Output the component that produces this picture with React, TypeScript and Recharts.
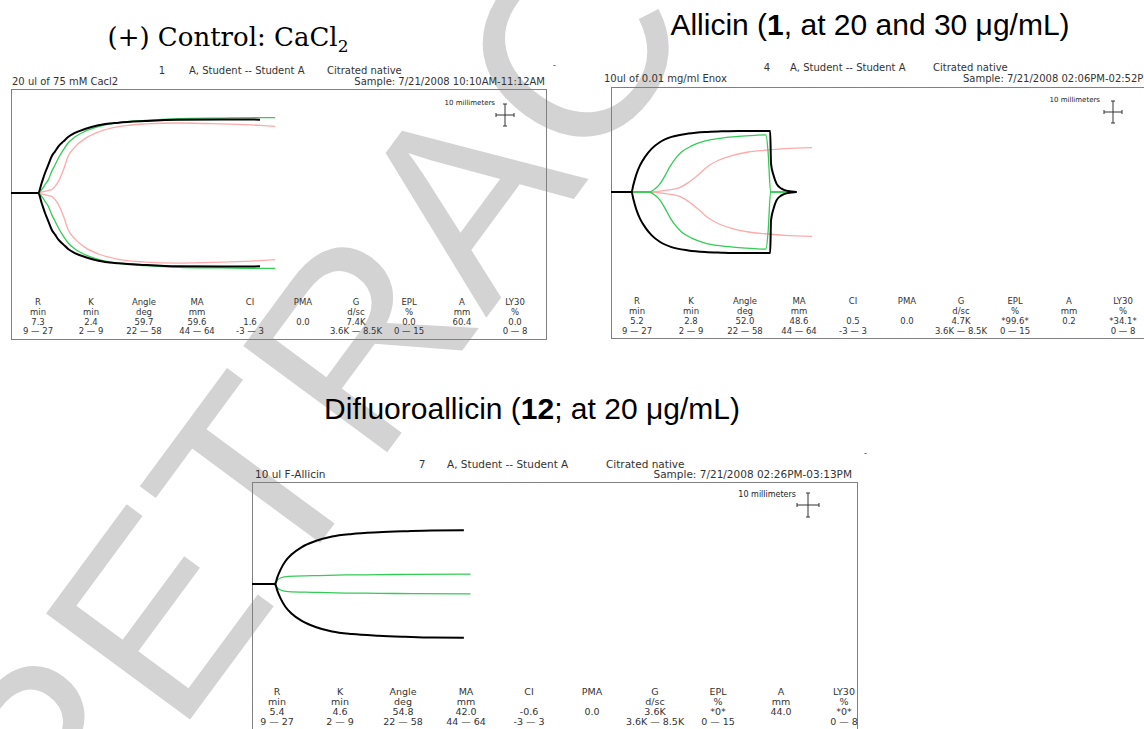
import React from "react";
import { LineChart, Line, XAxis, YAxis } from "recharts";

// TEG result table (same parameter rows for every run)
const PARAMS = ["R", "K", "Angle", "MA", "CI", "PMA", "G", "EPL", "A", "LY30"];
const UNITS = ["min", "min", "deg", "mm", "", "", "d/sc", "%", "mm", "%"];
const RANGES = ["9 — 27", "2 — 9", "22 — 58", "44 — 64", "-3 — 3", "", "3.6K — 8.5K", "0 — 15", "", "0 — 8"];

const controlValues = ["7.3", "2.4", "59.7", "59.6", "1.6", "0.0", "7.4K", "0.0", "60.4", "0.0"];
const allicinValues = ["5.2", "2.8", "52.0", "48.6", "0.5", "0.0", "4.7K", "*99.6*", "0.2", "*34.1*"];
const difluoroValues = ["5.4", "4.6", "54.8", "42.0", "-0.6", "0.0", "3.6K", "*0*", "44.0", "*0*"];

// tracings: time in minutes, amplitude in mm (drawn +/- amplitude/2)
const controlMin = [0, 6.5, 7.3, 8.1, 8.9, 9.7, 10.5, 11.3, 12.5, 13.6, 15.2, 17.6, 20.8, 25.6, 31.9, 39.8, 50.2, 59.3, 62.9];
const controlBlack = [0, 0, 8.1, 16.2, 22.9, 29.7, 33.7, 37.8, 41.8, 45.3, 48.6, 51.8, 54.8, 56.9, 58.3, 59.4, 59.6, 59.4, null];
const controlGreen = [0, 0, 2.7, 6.7, 10.8, 17.5, 22.9, 28.3, 35.1, 40.5, 45.3, 49.9, 53.7, 56.9, 58.8, 60.2, 60.7, 61.0, 61.0];
const controlPink = [0, 0, 0.8, 1.3, 2.2, 2.7, 5.4, 9.4, 18.9, 29.7, 37.2, 44.0, 49.4, 53.7, 55.9, 56.7, 55.9, 54.8, 54.0];

const allicinBlackMin = [0, 4.9, 5.3, 6.1, 6.9, 8.1, 9.7, 11.7, 14.4, 18.4, 22.4, 26.3, 30.3, 37.9, 38.1, 38.7, 39.4, 40.6, 42.1, 44.2];
const allicinBlack = [0, 0, 5.4, 14.9, 21.6, 28.4, 35.1, 40.5, 44.6, 47.3, 48.6, 49.1, 49.4, 49.4, 23.0, 13.5, 6.8, 2.7, 0.8, 0];
const allicinGreenMin = [0, 8.9, 10.5, 11.7, 12.9, 14.0, 15.2, 16.8, 19.2, 22.4, 26.3, 30.3, 34.3, 36.9, 37.4, 38.0, 41.8];
const allicinGreen = [0, 0, 2.7, 6.8, 13.5, 20.3, 26.5, 32.4, 37.3, 41.3, 43.7, 45.1, 45.9, 46.2, 32.4, 0, 0];
const allicinPinkMin = [0, 9.7, 12.9, 16.0, 18.4, 20.8, 23.2, 25.6, 28.7, 32.7, 36.7, 41.4, 47.9];
const allicinPink = [0, 0, 1.4, 3.2, 7.6, 14.0, 21.1, 25.7, 29.4, 32.4, 33.8, 35.1, 35.9];

const difluoroBlackMin = [0, 4.9, 5.3, 6.0, 7.0, 8.4, 10.5, 13.4, 16.9, 21.1, 26.7, 32.3, 37.9, 44.7];
const difluoroBlack = [0, 0, 4.8, 11.1, 17.6, 23.3, 29.0, 33.7, 37.3, 39.3, 40.6, 41.4, 42.0, 42.1];
const difluoroGreenMin = [0, 4.6, 4.9, 5.3, 6.0, 7.7, 12.7, 19.7, 26.7, 33.8, 46.1];
const difluoroGreen = [0, 0, 1.3, 2.9, 4.7, 6.0, 6.5, 7.1, 7.3, 7.6, 7.8];

const BLACK = "#000000";
const GREEN = "#33cc55";
const PINK = "#ffaaaa";
const SANS = "'DejaVu Sans', Verdana, sans-serif";
const ARIAL = "'Liberation Sans', Arial, sans-serif";

type Trace = { min: number[]; mm: (number | null)[]; color: string; width: number };

const halfTrace = (tr: Trace, sign: number) =>
  tr.min.map((t, i) => ({ t, v: tr.mm[i] == null ? null : (sign * (tr.mm[i] as number)) / 2 }));

function Tracing({ left, top, width, height, pxPerMin, pxPerMm, traces }: {
  left: number; top: number; width: number; height: number; pxPerMin: number; pxPerMm: number; traces: Trace[];
}) {
  const xMax = width / pxPerMin;
  const yMax = height / 2 / pxPerMm;
  return (
    <div style={{ position: "absolute", left, top }}>
      <LineChart width={width} height={height} margin={{ top: 0, right: 0, bottom: 0, left: 0 }}>
        <XAxis type="number" dataKey="t" domain={[0, xMax]} hide allowDataOverflow />
        <YAxis type="number" domain={[-yMax, yMax]} hide allowDataOverflow />
        {traces.map((tr, i) =>
          [1, -1].map((s) => (
            <Line
              key={`${i}${s}`}
              data={halfTrace(tr, s)}
              dataKey="v"
              type="monotone"
              stroke={tr.color}
              strokeWidth={tr.width}
              dot={false}
              isAnimationActive={false}
            />
          ))
        )}
      </LineChart>
    </div>
  );
}

function Txt({ x, y, size = 10, anchor = "start", font = SANS, color = "#333", children }: {
  x: number; y: number; size?: number; anchor?: string; font?: string; color?: string; children: React.ReactNode;
}) {
  const transform = anchor === "middle" ? "translateX(-50%)" : anchor === "end" ? "translateX(-100%)" : undefined;
  return (
    <div style={{
      position: "absolute", left: x, top: y - size * 0.55, fontSize: size, lineHeight: `${size * 1.1}px`,
      whiteSpace: "nowrap", transform, fontFamily: font, color,
    }}>
      {children}
    </div>
  );
}

function Box({ left, top, right, bottom }: { left: number; top: number; right: number; bottom: number }) {
  return (
    <div style={{
      position: "absolute", left, top, width: right - left, height: bottom - top,
      border: "1px solid #808080", boxSizing: "border-box",
    }} />
  );
}

function Scale({ x, y, hv, hh, labelX, labelY, size }: {
  x: number; y: number; hv: number; hh: number; labelX: number; labelY: number; size: number;
}) {
  return (
    <>
      <Txt x={labelX} y={labelY} size={size} anchor="end" color="#222">10 millimeters</Txt>
      <svg style={{ position: "absolute", left: x - hh - 2, top: y - hv - 2 }} width={hh * 2 + 4} height={hv * 2 + 4}>
        <g stroke="#333" strokeWidth={1} transform={`translate(${hh + 2},${hv + 2})`}>
          <line x1={0} y1={-hv} x2={0} y2={hv} />
          <line x1={-2} y1={-hv} x2={2} y2={-hv} />
          <line x1={-2} y1={hv} x2={2} y2={hv} />
          <line x1={-hh} y1={0} x2={hh} y2={0} />
          <line x1={-hh} y1={-2} x2={-hh} y2={2} />
          <line x1={hh} y1={-2} x2={hh} y2={2} />
        </g>
      </svg>
    </>
  );
}

function Stats({ values, x0, step, y0, gap, size }: {
  values: string[]; x0: number; step: number; y0: number; gap: number; size: number;
}) {
  return (
    <>
      {PARAMS.map((p, i) => {
        const x = x0 + step * i;
        return (
          <React.Fragment key={p}>
            <Txt x={x} y={y0} size={size} anchor="middle">{p}</Txt>
            <Txt x={x} y={y0 + gap} size={size} anchor="middle">{UNITS[i]}</Txt>
            <Txt x={x} y={y0 + gap * 2} size={size} anchor="middle">{values[i]}</Txt>
            <Txt x={x} y={y0 + gap * 3} size={size} anchor="middle">{RANGES[i]}</Txt>
          </React.Fragment>
        );
      })}
    </>
  );
}

export default function App() {
  return (
    <div style={{ position: "absolute", left: 0, top: 0, width: 1144, height: 729, overflow: "hidden", background: "#fff" }}>
      {/* diagonal watermark behind everything */}
      <div style={{
        position: "absolute", left: 465, top: 195, transform: "translate(-50%, -50%) rotate(-53.6deg)",
        fontFamily: ARIAL, fontSize: 260, lineHeight: "260px", color: "#d3d3d3", whiteSpace: "nowrap",
      }}>
        RETRACTED
      </div>

      {/* (+) control */}
      <Txt x={228} y={37} size={26} anchor="middle" font="'DejaVu Serif', serif" color="#000">
        (+) Control: CaCl<sub style={{ fontSize: 17, verticalAlign: "-6px" }}>2</sub>
      </Txt>
      <Txt x={162} y={70} anchor="middle">1</Txt>
      <Txt x={189} y={70}>A, Student -- Student A</Txt>
      <Txt x={327} y={70}>Citrated native</Txt>
      <Txt x={553} y={66} size={8}>-</Txt>
      <Txt x={12} y={81}>20 ul of 75 mM Cacl2</Txt>
      <Txt x={545} y={81} anchor="end">Sample: 7/21/2008 10:10AM-11:12AM</Txt>
      <Box left={11} top={89} right={547} bottom={340} />
      <Scale x={505} y={115} hv={11} hh={9} labelX={495} labelY={104} size={7} />
      <Tracing
        left={11} top={89} width={536} height={208} pxPerMin={4.2} pxPerMm={2.47}
        traces={[
          { min: controlMin, mm: controlPink, color: PINK, width: 1.3 },
          { min: controlMin, mm: controlGreen, color: GREEN, width: 1.3 },
          { min: controlMin, mm: controlBlack, color: BLACK, width: 2 },
        ]}
      />
      <Stats values={controlValues} x0={38} step={53} y0={303} gap={9.6} size={8.5} />

      {/* allicin */}
      <Txt x={870} y={24} size={30} anchor="middle" font={ARIAL} color="#000">
        Allicin (<b>1</b>, at 20 and 30 μg/mL)
      </Txt>
      <Txt x={767} y={67} anchor="middle">4</Txt>
      <Txt x={790} y={67}>A, Student -- Student A</Txt>
      <Txt x={933} y={67}>Citrated native</Txt>
      <Txt x={604} y={78}>10ul of 0.01 mg/ml Enox</Txt>
      <Txt x={1152} y={78} anchor="end">Sample: 7/21/2008 02:06PM-02:52PM</Txt>
      <Box left={611} top={87} right={1152} bottom={339} />
      <Scale x={1113} y={112} hv={11} hh={9} labelX={1100} labelY={101} size={7} />
      <Tracing
        left={611} top={87} width={540} height={210} pxPerMin={4.2} pxPerMm={2.47}
        traces={[
          { min: allicinPinkMin, mm: allicinPink, color: PINK, width: 1.3 },
          { min: allicinGreenMin, mm: allicinGreen, color: GREEN, width: 1.3 },
          { min: allicinBlackMin, mm: allicinBlack, color: BLACK, width: 2 },
        ]}
      />
      <Stats values={allicinValues} x0={637} step={54} y0={302} gap={9.8} size={8.5} />

      {/* difluoroallicin */}
      <Txt x={532} y={408} size={30} anchor="middle" font={ARIAL} color="#000">
        Difluoroallicin (<b>12</b>; at 20 μg/mL)
      </Txt>
      <Txt x={422} y={465} size={10.5} anchor="middle">7</Txt>
      <Txt x={447} y={465} size={10.5}>A, Student -- Student A</Txt>
      <Txt x={606} y={465} size={10.5}>Citrated native</Txt>
      <Txt x={864} y={454} size={8}>-</Txt>
      <Txt x={255} y={475} size={10.5}>10 ul F-Allicin</Txt>
      <Txt x={852} y={475} size={10.5} anchor="end">Sample: 7/21/2008 02:26PM-03:13PM</Txt>
      <Box left={252} top={482} right={858} bottom={740} />
      <Scale x={808} y={505} hv={12} hh={11} labelX={796} labelY={495} size={8} />
      <Tracing
        left={252} top={482} width={606} height={204} pxPerMin={4.74} pxPerMm={2.55}
        traces={[
          { min: difluoroGreenMin, mm: difluoroGreen, color: GREEN, width: 1.3 },
          { min: difluoroBlackMin, mm: difluoroBlack, color: BLACK, width: 2 },
        ]}
      />
      <Stats values={difluoroValues} x0={277} step={63} y0={692} gap={10} size={9.5} />
    </div>
  );
}
